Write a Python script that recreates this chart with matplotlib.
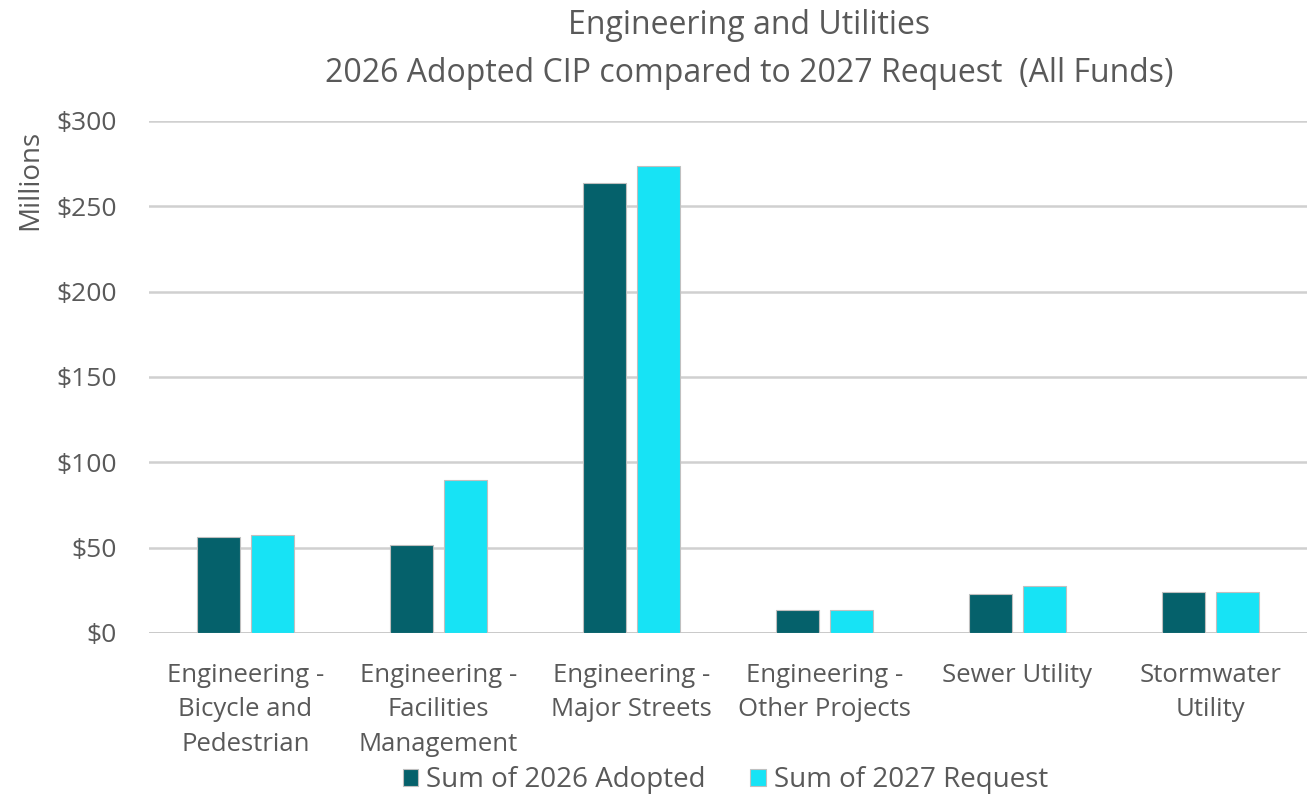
# Engineering and Utilities - 2026 Adopted CIP vs 2027 Request, grouped bar chart
import numpy as np
import matplotlib.pyplot as plt
from matplotlib.ticker import FuncFormatter

# categories and values (millions of dollars)
categories = [
    "Engineering -\nBicycle and\nPedestrian",
    "Engineering -\nFacilities\nManagement",
    "Engineering -\nMajor Streets",
    "Engineering -\nOther Projects",
    "Sewer Utility",
    "Stormwater\nUtility",
]
adopted_2026 = [56.1, 51.4, 263.6, 13.2, 22.9, 23.8]
request_2027 = [57.5, 89.8, 273.4, 13.2, 27.5, 23.8]
series_names = ["Sum of 2026 Adopted", "Sum of 2027 Request"]
yticks = [0, 50, 100, 150, 200, 250, 300]

text_color = "#595959"
plt.rcParams["font.family"] = ["Open Sans", "DejaVu Sans"]

fig = plt.figure(figsize=(13.07, 7.96), dpi=100)
ax = fig.add_axes([0.114, 0.205, 0.886, 0.643])

x = np.arange(len(categories))
width = 0.223
offset = 0.142
ax.bar(x - offset, adopted_2026, width, color="#05616B", edgecolor="#bfbfbf",
       linewidth=0.8, label=series_names[0], zorder=3)
ax.bar(x + offset, request_2027, width, color="#17E3F5", edgecolor="#bfbfbf",
       linewidth=0.8, label=series_names[1], zorder=3)

ax.set_xlim(-0.5, len(categories) - 0.5)
ax.set_ylim(0, 300)
ax.set_yticks(yticks)
ax.yaxis.set_major_formatter(FuncFormatter(lambda v, p: f"${v:.0f}"))
ax.yaxis.grid(True, color="#d0d0d0", linewidth=1.8, zorder=0)
ax.set_axisbelow(True)
for s in ax.spines.values():
    s.set_visible(False)
ax.tick_params(axis="both", length=0, colors=text_color)
ax.tick_params(axis="y", pad=23, labelsize=19)
ax.tick_params(axis="x", pad=21.5, labelsize=18.5)
ax.set_xticks(x)
ax.set_xticklabels(categories, linespacing=1.5, va="top")

# baseline
ax.axhline(0, color="#c8c8c8", linewidth=2, zorder=2)

fig.text(0.573, 0.968, "Engineering and Utilities", ha="center", va="center",
         fontsize=23, color=text_color)
fig.text(0.573, 0.908, "2026 Adopted CIP compared to 2027 Request  (All Funds)",
         ha="center", va="center", fontsize=23, color=text_color)
fig.text(0.023, 0.774, "Millions", rotation=90, ha="center", va="center",
         fontsize=20, color=text_color)

leg = fig.legend(loc="center", bbox_to_anchor=(0.555, 0.02), ncol=2, frameon=False,
                 fontsize=20, handlelength=0.55, handleheight=0.55, handletextpad=0.3,
                 columnspacing=1.6, borderpad=0)
for t in leg.get_texts():
    t.set_color(text_color)

fig.savefig("out.png", dpi=100)
